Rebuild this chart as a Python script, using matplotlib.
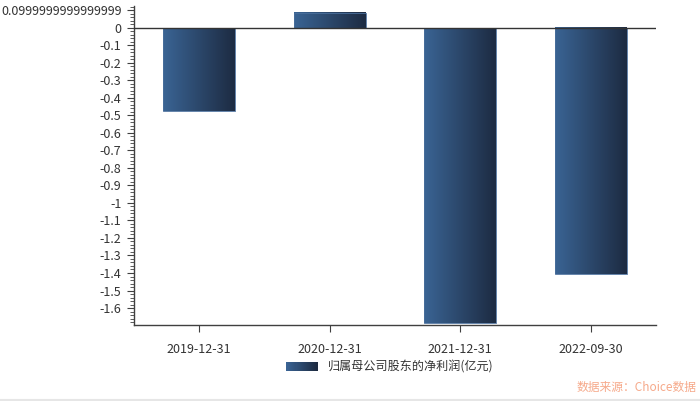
import matplotlib
matplotlib.use("Agg")
import matplotlib.pyplot as plt
import numpy as np
from matplotlib.patches import Rectangle
from matplotlib.lines import Line2D
from matplotlib.legend_handler import HandlerBase
from matplotlib.colors import LinearSegmentedColormap
from matplotlib.ticker import FixedLocator, MultipleLocator

plt.rcParams['font.family'] = ['Noto Sans CJK SC', 'DejaVu Sans']
plt.rcParams['font.size'] = 9

categories = ["2019-12-31", "2020-12-31", "2021-12-31", "2022-09-30"]
profit = [-0.473, 0.087, -1.684, -1.406]
series_name = "归属母公司股东的净利润(亿元)"
ytick_vals = [0.1, 0.0, -0.1, -0.2, -0.3, -0.4, -0.5, -0.6, -0.7, -0.8,
              -0.9, -1.0, -1.1, -1.2, -1.3, -1.4, -1.5, -1.6]
ytick_labels = ["0.0999999999999999", "0", "-0.1", "-0.2", "-0.3", "-0.4",
                "-0.5", "-0.6", "-0.7", "-0.8", "-0.9", "-1", "-1.1", "-1.2",
                "-1.3", "-1.4", "-1.5", "-1.6"]

LEFT_C, RIGHT_C = "#3a6494", "#1d2b42"
cmap = LinearSegmentedColormap.from_list("bar", [LEFT_C, RIGHT_C])
grad = np.linspace(0, 1, 256).reshape(1, -1)

fig = plt.figure(figsize=(7.0, 4.01), dpi=100)
ax = fig.add_axes([134 / 700, 76 / 401, 522 / 700, 319 / 401])

x = np.arange(len(categories))
width = 0.55
bars = ax.bar(x, profit, width=width, color="none", edgecolor="none", zorder=2)
for b in bars:
    x0, y0 = b.get_x(), b.get_y()
    w, h = b.get_width(), b.get_height()
    ax.imshow(grad, cmap=cmap, aspect="auto", zorder=2,
              extent=[x0, x0 + w, y0, y0 + h], interpolation="bilinear")
    ax.add_patch(Rectangle((x0, y0), w, h, fill=False, edgecolor="#4a6f9c",
                           linewidth=0.6, zorder=3))

ax.axhline(0, color="#333333", linewidth=1.0, zorder=4)

ax.set_xlim(-0.5, 3.5)
ax.set_ylim(-1.697, 0.125)
ax.set_xticks(x)
ax.set_xticklabels(categories, color="#333333", fontsize=9)
ax.yaxis.set_major_locator(FixedLocator(ytick_vals))
ax.set_yticklabels(ytick_labels, color="#333333", fontsize=9)
ax.yaxis.set_minor_locator(MultipleLocator(0.02))

for s in ["top", "right"]:
    ax.spines[s].set_visible(False)
for s in ["left", "bottom"]:
    ax.spines[s].set_color("#404040")
    ax.spines[s].set_linewidth(1.0)
ax.tick_params(axis="y", which="major", length=5, color="#404040", pad=4)
ax.tick_params(axis="y", which="minor", length=3, color="#404040")
ax.tick_params(axis="x", length=5, color="#404040", pad=8)


class GradientHandler(HandlerBase):
    def create_artists(self, legend, orig_handle, xdescent, ydescent,
                       width, height, fontsize, trans):
        n = 30
        arts = []
        for i in range(n):
            r = Rectangle((-xdescent + width * i / n, -ydescent), width / n + 0.3,
                          height, facecolor=cmap(i / (n - 1)), edgecolor="none",
                          transform=trans)
            arts.append(r)
        return arts


proxy = Rectangle((0, 0), 1, 1)
fig.legend([proxy], [series_name], handler_map={Rectangle: GradientHandler()},
           loc="center", bbox_to_anchor=(390 / 700, 34 / 401), frameon=False,
           fontsize=8.7, handlelength=2.6, handleheight=0.75, handletextpad=0.9,
           labelcolor="#333333")

fig.text(0.995, 14 / 401, "数据来源：Choice数据", ha="right", va="center",
         fontsize=8.5, color="#f6a98a")

fig.add_artist(Line2D([0, 1], [1.5 / 401, 1.5 / 401], transform=fig.transFigure,
                      color="#e6e6e6", linewidth=1.5))

fig.savefig("out.png", dpi=100)
